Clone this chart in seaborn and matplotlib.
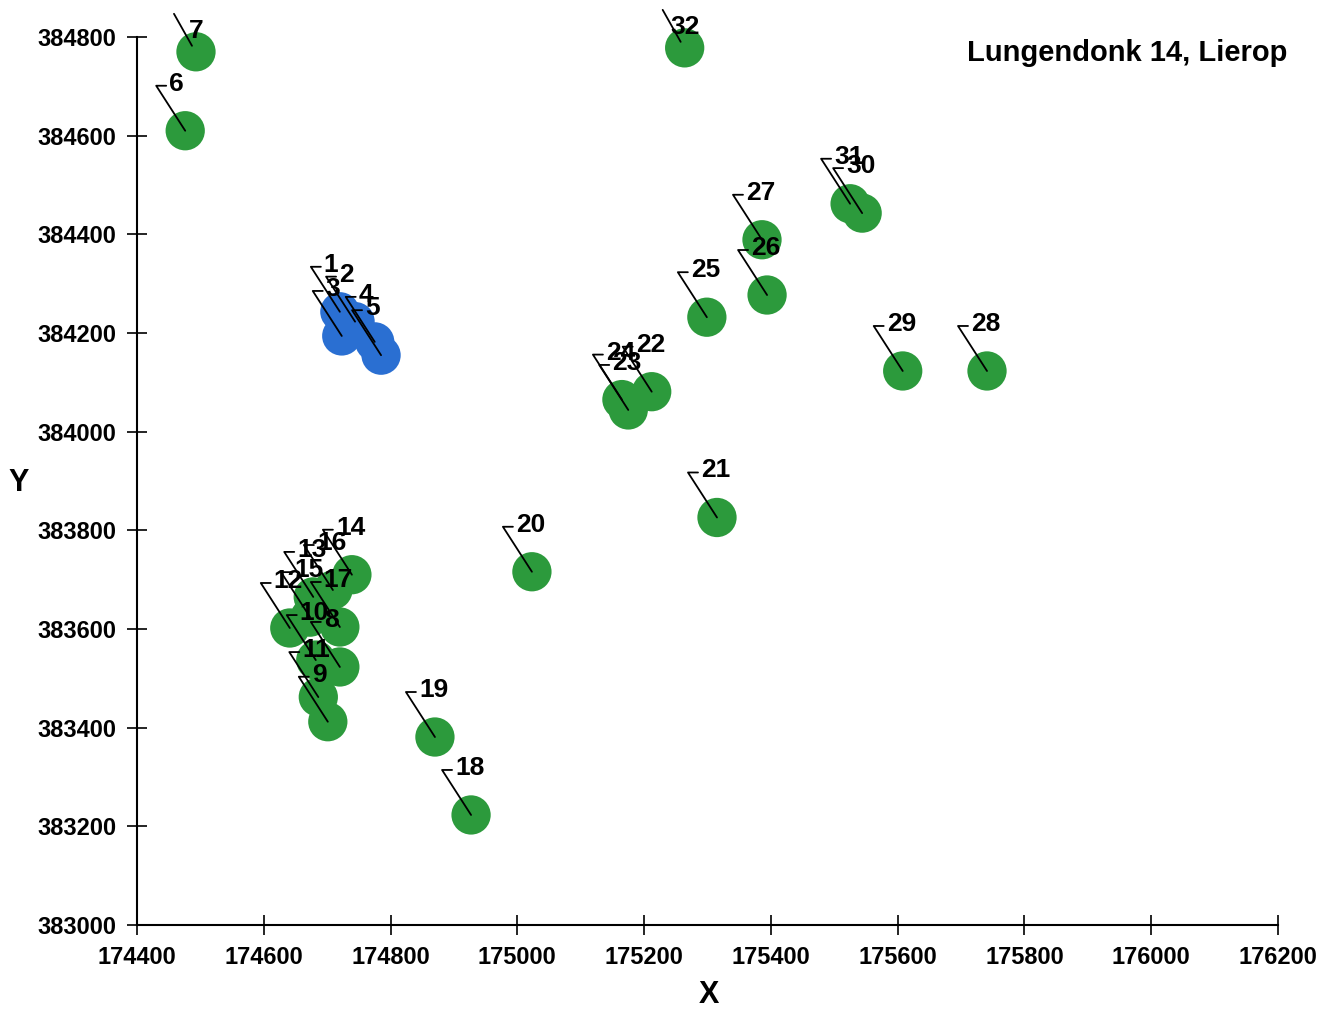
import matplotlib
matplotlib.use('Agg')
import matplotlib.pyplot as plt
import seaborn as sns
import pandas as pd

# well positions (RD coordinates)
point_ids = list(range(1, 33))
x_coord = [174720, 174744, 174723, 174775, 174785,
           174476, 174493,
           174720, 174701, 174682, 174686, 174641, 174678, 174739, 174673, 174709, 174720,
           174927, 174870, 175023, 175315, 175212, 175175, 175165, 175299, 175394,
           175386, 175741, 175608, 175544, 175525, 175264]
y_coord = [384243, 384223, 384194, 384182, 384155,
           384610, 384770,
           383523, 383412, 383537, 383462, 383602, 383665, 383710, 383624, 383679, 383604,
           383223, 383381, 383716, 383826, 384081, 384044, 384065, 384232, 384277,
           384389, 384123, 384123, 384443, 384462, 384778]
groups = ['blue'] * 5 + ['green'] * 27

x_ticks = list(range(174400, 176201, 200))
y_ticks = list(range(383000, 384801, 200))

sns.set_style('white')
plt.rcParams['font.family'] = ['Liberation Sans', 'DejaVu Sans']
plt.rcParams.update({'text.color': 'black', 'axes.labelcolor': 'black',
                     'xtick.color': 'black', 'ytick.color': 'black'})

fig = plt.figure(figsize=(13.33, 10.11), dpi=100)
ax = fig.add_axes([0.1028, 0.0851, 0.8559, 0.8783])

df = pd.DataFrame({'X': x_coord, 'Y': y_coord, 'group': groups, 'id': point_ids})
sns.scatterplot(data=df, x='X', y='Y', hue='group',
                palette={'blue': '#2a6fd2', 'green': '#2c9a3c'},
                s=800, linewidth=0, legend=False, ax=ax, clip_on=False, zorder=2)

ax.set_xlim(x_ticks[0], x_ticks[-1])
ax.set_ylim(y_ticks[0], y_ticks[-1])

# size of one pixel in data units (for the leader lines)
px_x = (x_ticks[-1] - x_ticks[0]) / (0.8559 * 1333)
px_y = (y_ticks[-1] - y_ticks[0]) / (0.8783 * 1011)

for pid, x, y in zip(df['id'], df['X'], df['Y']):
    if pid in (7, 32):
        # labels at the top edge sit on the leader
        ax.plot([x - 22 * px_x, x - 4 * px_x], [y + 38 * px_y, y + 6 * px_y],
                color='black', lw=1.3, clip_on=False, zorder=4)
        ax.text(x, y + 21 * px_y, str(pid), fontsize=19, fontweight='bold',
                ha='center', va='center', zorder=5, clip_on=False)
        continue
    cx, cy = x - 29 * px_x, y + 45 * px_y
    ax.plot([x, cx, x - 19 * px_x], [y, cy, cy], color='black', lw=1.3,
            clip_on=False, zorder=4)
    ax.text(x - 16 * px_x, cy + 2 * px_y, str(pid), fontsize=19, fontweight='bold',
            ha='left', va='center', zorder=5, clip_on=False)

ax.set_xticks(x_ticks)
ax.set_yticks(y_ticks)
ax.set_xticklabels([str(t) for t in x_ticks], fontsize=17, fontweight='bold')
ax.set_yticklabels([str(t) for t in y_ticks], fontsize=17, fontweight='bold')
ax.tick_params(axis='both', direction='inout', length=14, width=1.2,
               bottom=True, left=True)
ax.tick_params(axis='x', pad=8)
ax.tick_params(axis='y', pad=8)

for side in ['top', 'right']:
    ax.spines[side].set_visible(False)
for side in ['left', 'bottom']:
    ax.spines[side].set_color('black')
    ax.spines[side].set_linewidth(1.5)

ax.set_xlabel('X', fontsize=22, fontweight='bold', va='top')
ax.xaxis.set_label_coords(0.501, -0.062)
ax.set_ylabel('Y', fontsize=22, fontweight='bold', rotation=0, ha='center', va='center')
ax.yaxis.set_label_coords(-0.104, 0.498)

fig.text(0.9655, 0.9476, 'Lungendonk 14, Lierop', fontsize=21, fontweight='bold',
         ha='right', va='center')

fig.savefig('out.png', dpi=100)
